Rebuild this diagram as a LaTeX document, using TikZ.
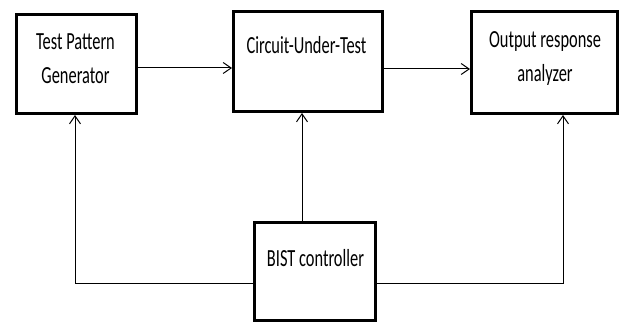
\documentclass[tikz,border=0pt]{standalone}
\usepackage{fontspec}
\setmainfont{Carlito}
\usepackage{graphicx}
\usepackage{tikz}
\usetikzlibrary{arrows.meta, positioning}

\newcommand{\tallfont}{\fontsize{16.4}{23.3}\selectfont}
\newcommand{\tall}[1]{\scalebox{1}[1.5]{\begin{tabular}{@{}c@{}}#1\end{tabular}}}

\begin{document}
\begin{tikzpicture}[x=1pt, y=-1pt, ->, >={Straight Barb[length=8pt,width=11pt]},
  line width=1pt,
  block/.style={draw, line width=3pt, rectangle},
  txt/.style={font=\tallfont, inner sep=0pt}]
\useasboundingbox (0,0) rectangle (621,323);
% Bloques
\node[block, minimum width=120pt, minimum height=99pt] (tpg) at (76.5,64) {};
\node[block, minimum width=149pt, minimum height=100pt] (cut) at (308,61.5) {};
\node[block, minimum width=146pt, minimum height=102pt] (ora) at (544.5,62.5) {};
\node[block, minimum width=121pt, minimum height=98pt] (bist) at (315,271.5) {};
% Textos
\node[txt] (tpgtext) at (75.5,59.5) {\tall{Test Pattern\\Generator}};
\node[txt] (cuttext) at (306.5,47) {\tall{Circuit-Under-Test}};
\node[txt] (oratext) at (545,57.5) {\tall{Output response\\analyzer}};
\node[txt] (bisttext) at (315.5,260) {\tall{BIST controller}};
% Conexiones
\draw (tpg.east |- 0,68) -- (cut.west |- 0,68);
\draw (cut.east |- 0,69) -- (ora.west |- 0,69);
\draw (bist.north -| 302,0) -- (cut.south -| 302,0);
\draw (bist.west |- 0,283) -| (tpg.south -| 75,0);
\draw (bist.east |- 0,283) -| (ora.south -| 563,0);
\end{tikzpicture}
\end{document}
